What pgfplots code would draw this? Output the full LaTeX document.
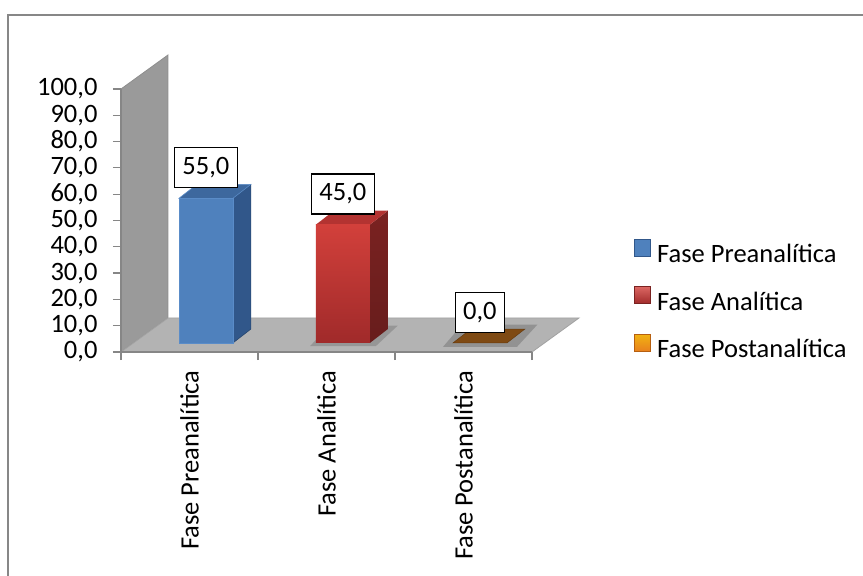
\documentclass[border=0pt]{standalone}
\usepackage{fontspec}
\setmainfont{Carlito}
\usepackage{pgfplots}
\pgfplotsset{compat=1.18}

\definecolor{framegray}{HTML}{878787}
\definecolor{axisgray}{HTML}{868686}
\definecolor{wallgray}{HTML}{9A9A9A}
\definecolor{wallline}{HTML}{8E8E8E}
\definecolor{floorgray}{HTML}{B3B3B3}
\definecolor{floorline}{HTML}{A2A2A2}
\definecolor{blueFront}{HTML}{4F81BD}
\definecolor{blueSide}{HTML}{31578A}
\definecolor{blueTop}{HTML}{3D689E}
\definecolor{blueEdge}{HTML}{5A8CC8}
\definecolor{redLight}{HTML}{D2403B}
\definecolor{redDark}{HTML}{A02A2A}
\definecolor{redSide}{HTML}{7A2221}
\definecolor{redTop}{HTML}{B33331}
\definecolor{brownTop}{HTML}{7F4A13}
\definecolor{orangeLeg}{HTML}{E8801E}
\definecolor{orangeEdge}{HTML}{B65F10}

\newcommand{\chartfont}{\fontsize{26.5}{30}\selectfont}

\pgfplotsset{
  /pgf/number format/use comma,
  /pgf/number format/fixed,
  /pgf/number format/fixed zerofill,
  /pgf/number format/precision=1,
  /pgf/number format/assume math mode=true,
}

\begin{document}
\begin{tikzpicture}
\useasboundingbox (0pt,0pt) rectangle (863pt,576pt);
\begin{scope}
  \clip (0pt,0pt) rectangle (863pt,576pt);
  \fill[white] (0pt,0pt) rectangle (863pt,576pt);
  \draw[framegray, line width=2pt] (8pt,561pt) rectangle (900pt,-20pt);
\end{scope}

% front plane: axes, side wall and floor
\begin{axis}[
  at={(121pt,224pt)}, anchor=south west,
  scale only axis, width=411pt, height=263pt,
  xmin=0, xmax=3, ymin=0, ymax=100,
  clip=false, axis on top,
  axis x line=bottom, axis y line=left,
  axis line style={-, draw=axisgray, line width=1.2pt},
  tick align=outside, major tick length=8pt,
  every tick/.style={axisgray, line width=1.2pt},
  ytick={0,10,...,100},
  yticklabel shift=12pt,
  xtick={0,1,2,3}, xticklabels={,,,},
  xticklabel shift=15pt,
  extra x ticks={0.5,1.5,2.5},
  extra x tick labels={Fase Preanalítica,Fase Analítica,Fase Postanalítica},
  extra x tick style={major tick length=0pt,
    xticklabel style={rotate=90, anchor=east}},
  tick label style={font=\chartfont, text=black},
]
  \addplot[fill=wallgray, draw=wallline, line width=0.8pt]
    coordinates {(0,0) (0,100) (0.343,112.93) (0.343,12.93)} -- cycle;
  \addplot[fill=floorgray, draw=floorline, line width=0.8pt]
    coordinates {(0,0) (3,0) (3.343,12.93) (0.343,12.93)} -- cycle;
\end{axis}

% bar plane, set back from the front plane
\begin{axis}[
  at={(137.4pt,233pt)}, anchor=south west,
  scale only axis, width=411pt, height=263pt,
  xmin=0, xmax=3, ymin=0, ymax=100,
  clip=false, hide axis,
  ybar, bar width=54pt, bar shift=0pt,
  legend style={at={(1.2010,0.1635)}, anchor=west, draw=none, fill=none,
    font=\chartfont, row sep=20pt, column sep=4pt},
  legend cell align=left,
]
  % shadows on the floor
  \addplot[fill=black, opacity=0.16, draw=none, forget plot, sharp plot]
    coordinates {(1.26,-1.2) (1.74,-1.2) (1.90,6.6) (1.40,6.6)} -- cycle;
  \addplot[fill=black, opacity=0.18, draw=none, forget plot, sharp plot]
    coordinates {(2.23,-1.5) (2.77,-1.5) (2.92,7.0) (2.37,7.0)} -- cycle;

  % side and top faces
  \addplot[fill=blueSide, draw=blueSide!80!black, line width=0.6pt, forget plot, sharp plot]
    coordinates {(0.697,0) (0.828,5.3) (0.828,60.3) (0.697,55)} -- cycle;
  \addplot[fill=blueTop, draw=blueEdge, line width=0.6pt, forget plot, sharp plot]
    coordinates {(0.303,55) (0.697,55) (0.828,60.3) (0.434,60.3)} -- cycle;
  \addplot[top color=redSide, bottom color=redSide!85!black, draw=none, forget plot, sharp plot]
    coordinates {(1.697,0) (1.828,5.3) (1.828,50.3) (1.697,45)} -- cycle;
  \addplot[fill=redTop, draw=none, forget plot, sharp plot]
    coordinates {(1.303,45) (1.697,45) (1.828,50.3) (1.434,50.3)} -- cycle;
  \addplot[fill=brownTop, draw=brownTop!80!black, line width=0.5pt, forget plot, sharp plot]
    coordinates {(2.303,0) (2.697,0) (2.828,5.3) (2.434,5.3)} -- cycle;

  % front faces with value labels
  \pgfplotsset{every node near coord/.append style={
      draw=black, fill=white, line width=1.2pt, text=black, font=\chartfont,
      inner xsep=8pt, inner ysep=0pt, minimum height=40pt,
      anchor=south, yshift=10pt}}
  \addplot[fill=blueFront, draw=blueEdge, line width=0.8pt, nodes near coords,
    legend image code/.code={\draw[fill=blueFront, draw=blueSide, line width=1pt] (0pt,-2pt) rectangle (16pt,15pt);}]
    coordinates {(0.5,55)};
  \addlegendentry{Fase Preanalítica}
  \addplot[top color=redLight, bottom color=redDark, draw=none, nodes near coords,
    legend image code/.code={\draw[top color=redLight!80!white, bottom color=redDark, draw=redSide, line width=1pt] (0pt,-2pt) rectangle (16pt,15pt);}]
    coordinates {(1.5,45)};
  \addlegendentry{Fase Analítica}
  \addplot[fill=brownTop, draw=none, nodes near coords,
    legend image code/.code={\draw[top color=orangeLeg!60!yellow, bottom color=orangeLeg, draw=orangeEdge, line width=1pt] (0pt,-2pt) rectangle (16pt,15pt);}]
    coordinates {(2.5,0)};
  \addlegendentry{Fase Postanalítica}
\end{axis}
\end{tikzpicture}
\end{document}
